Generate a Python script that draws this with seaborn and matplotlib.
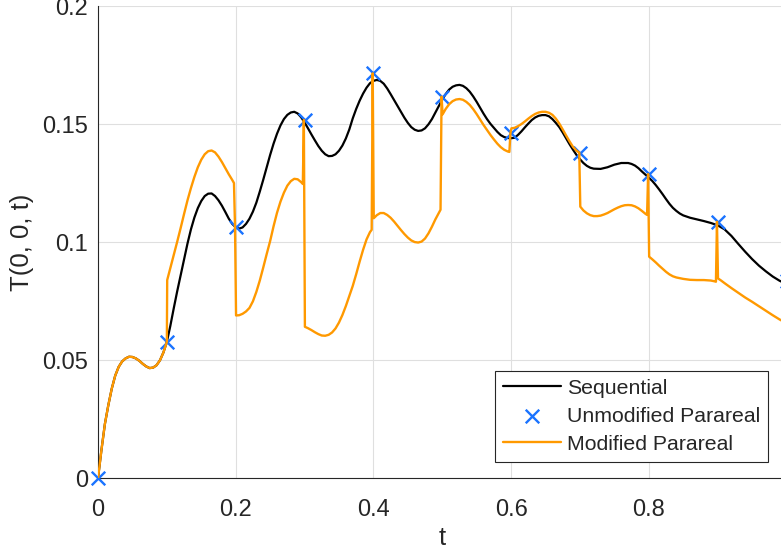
import matplotlib
matplotlib.use("Agg")
import matplotlib.pyplot as plt
import seaborn as sns
import pandas as pd

# ---------------- data ----------------
seq_t = [0.000, 0.005, 0.010, 0.015, 0.020, 0.025, 0.030, 0.035, 0.040, 0.045,
         0.050, 0.055, 0.060, 0.065, 0.070, 0.075, 0.080, 0.085, 0.090, 0.095,
         0.100, 0.105, 0.110, 0.115, 0.120, 0.125, 0.130, 0.135, 0.140, 0.145,
         0.150, 0.155, 0.160, 0.165, 0.170, 0.175, 0.180, 0.185, 0.190, 0.195,
         0.200, 0.205, 0.210, 0.215, 0.220, 0.225, 0.230, 0.235, 0.240, 0.245,
         0.250, 0.255, 0.260, 0.265, 0.270, 0.275, 0.280, 0.285, 0.290, 0.295,
         0.300, 0.305, 0.310, 0.315, 0.320, 0.325, 0.330, 0.335, 0.340, 0.345,
         0.350, 0.355, 0.360, 0.365, 0.370, 0.375, 0.380, 0.385, 0.390, 0.395,
         0.400, 0.405, 0.410, 0.415, 0.420, 0.425, 0.430, 0.435, 0.440, 0.445,
         0.450, 0.455, 0.460, 0.465, 0.470, 0.475, 0.480, 0.485, 0.490, 0.495,
         0.500, 0.505, 0.510, 0.515, 0.520, 0.525, 0.530, 0.535, 0.540, 0.545,
         0.550, 0.555, 0.560, 0.565, 0.570, 0.575, 0.580, 0.585, 0.590, 0.595,
         0.600, 0.605, 0.610, 0.615, 0.620, 0.625, 0.630, 0.635, 0.640, 0.645,
         0.650, 0.655, 0.660, 0.665, 0.670, 0.675, 0.680, 0.685, 0.690, 0.695,
         0.700, 0.705, 0.710, 0.715, 0.720, 0.730, 0.740, 0.750, 0.760, 0.770,
         0.775, 0.780, 0.785, 0.790, 0.795, 0.800, 0.805, 0.810, 0.815, 0.820,
         0.825, 0.830, 0.835, 0.840, 0.845, 0.850, 0.860, 0.870, 0.880, 0.890,
         0.900, 0.910, 0.920, 0.930, 0.940, 0.950, 0.960, 0.970, 0.980, 0.990,
         1.000]
seq_T = [0.0000, 0.0120, 0.0230, 0.0310, 0.0380, 0.0435, 0.0472, 0.0495, 0.0508, 0.0515,
         0.0514, 0.0508, 0.0498, 0.0485, 0.0474, 0.0467, 0.0469, 0.0479, 0.0500, 0.0533,
         0.0578, 0.0645, 0.0720, 0.0792, 0.0860, 0.0930, 0.0995, 0.1055, 0.1105, 0.1145,
         0.1175, 0.1196, 0.1206, 0.1207, 0.1196, 0.1178, 0.1155, 0.1128, 0.1100, 0.1078,
         0.1064, 0.1058, 0.1063, 0.1078, 0.1100, 0.1130, 0.1168, 0.1215, 0.1265, 0.1318,
         0.1370, 0.1418, 0.1460, 0.1495, 0.1522, 0.1540, 0.1550, 0.1553, 0.1546, 0.1530,
         0.1508, 0.1483, 0.1457, 0.1432, 0.1408, 0.1388, 0.1373, 0.1365, 0.1366, 0.1373,
         0.1388, 0.1410, 0.1440, 0.1478, 0.1525, 0.1565, 0.1600, 0.1630, 0.1655, 0.1674,
         0.1684, 0.1688, 0.1684, 0.1672, 0.1652, 0.1628, 0.1603, 0.1578, 0.1553, 0.1528,
         0.1506, 0.1488, 0.1477, 0.1472, 0.1474, 0.1483, 0.1500, 0.1522, 0.1550, 0.1578,
         0.1605, 0.1628, 0.1647, 0.1659, 0.1665, 0.1667, 0.1663, 0.1653, 0.1638, 0.1618,
         0.1595, 0.1570, 0.1545, 0.1522, 0.1502, 0.1485, 0.1468, 0.1454, 0.1446, 0.1442,
         0.1441, 0.1443, 0.1455, 0.1470, 0.1487, 0.1503, 0.1518, 0.1529, 0.1536, 0.1539,
         0.1539, 0.1534, 0.1522, 0.1506, 0.1488, 0.1465, 0.1440, 0.1415, 0.1392, 0.1370,
         0.1352, 0.1336, 0.1324, 0.1316, 0.1312, 0.1311, 0.1318, 0.1329, 0.1336, 0.1336,
         0.1332, 0.1325, 0.1314, 0.1300, 0.1287, 0.1274, 0.1260, 0.1243, 0.1224, 0.1204,
         0.1183, 0.1163, 0.1146, 0.1133, 0.1122, 0.1114, 0.1104, 0.1097, 0.1090, 0.1082,
         0.1072, 0.1055, 0.1027, 0.0993, 0.0960, 0.0929, 0.0901, 0.0877, 0.0855, 0.0837,
         0.0823]

par_t = [0.0, 0.1, 0.2, 0.3, 0.4, 0.5, 0.6, 0.7, 0.8, 0.9, 1.0]
par_T = [0.0, 0.0578, 0.1066, 0.1518, 0.1716, 0.1617, 0.1462, 0.1380, 0.1289, 0.1087, 0.0838]

mod_t = [0.000, 0.005, 0.010, 0.015, 0.020, 0.025, 0.030, 0.035, 0.040, 0.045,
         0.050, 0.055, 0.060, 0.065, 0.070, 0.075, 0.080, 0.085, 0.090, 0.095,
         0.100,
         0.1005, 0.105, 0.110, 0.115, 0.120, 0.125, 0.130, 0.135, 0.140, 0.145,
         0.150, 0.155, 0.160, 0.165, 0.170, 0.175, 0.180, 0.185, 0.190, 0.195, 0.1975,
         0.199,
         0.2005, 0.205, 0.210, 0.215, 0.220, 0.225, 0.230, 0.235, 0.240, 0.245,
         0.250, 0.255, 0.260, 0.265, 0.270, 0.275, 0.280, 0.285, 0.290, 0.295, 0.2975,
         0.299,
         0.3005, 0.305, 0.310, 0.315, 0.320, 0.325, 0.330, 0.335, 0.340, 0.345,
         0.350, 0.355, 0.360, 0.365, 0.370, 0.375, 0.380, 0.385, 0.390, 0.395, 0.3975,
         0.399,
         0.4005, 0.405, 0.410, 0.415, 0.420, 0.425, 0.430, 0.435, 0.440, 0.445,
         0.450, 0.455, 0.460, 0.465, 0.470, 0.475, 0.480, 0.485, 0.490, 0.495, 0.4975,
         0.499,
         0.5005, 0.505, 0.510, 0.515, 0.520, 0.525, 0.530, 0.535, 0.540, 0.545,
         0.550, 0.555, 0.560, 0.565, 0.570, 0.575, 0.580, 0.585, 0.590, 0.595, 0.5975,
         0.599,
         0.6005, 0.605, 0.610, 0.615, 0.620, 0.625, 0.630, 0.635, 0.640, 0.645,
         0.650, 0.655, 0.660, 0.665, 0.670, 0.675, 0.680, 0.685, 0.690, 0.695, 0.6975,
         0.699,
         0.7005, 0.705, 0.710, 0.715, 0.720, 0.725, 0.730, 0.735, 0.740, 0.745,
         0.750, 0.755, 0.760, 0.765, 0.770, 0.775, 0.780, 0.785, 0.790, 0.795, 0.7975,
         0.799,
         0.8005, 0.805, 0.810, 0.815, 0.820, 0.825, 0.830, 0.835, 0.840, 0.850,
         0.860, 0.870, 0.880, 0.890, 0.895, 0.8975,
         0.899,
         0.9005, 0.905, 0.910, 0.920, 0.930, 0.940, 0.950, 0.960, 0.970, 0.980,
         0.990, 1.000]
mod_T = [0.0000, 0.0120, 0.0230, 0.0310, 0.0380, 0.0435, 0.0472, 0.0495, 0.0508, 0.0515,
         0.0514, 0.0508, 0.0498, 0.0485, 0.0474, 0.0467, 0.0469, 0.0479, 0.0500, 0.0533,
         0.0578,
         0.0840, 0.0890, 0.0945, 0.1002, 0.1060, 0.1120, 0.1178, 0.1230, 0.1277, 0.1318,
         0.1350, 0.1373, 0.1386, 0.1389, 0.1381, 0.1363, 0.1340, 0.1314, 0.1288, 0.1264, 0.1251,
         0.1066,
         0.0690, 0.0691, 0.0697, 0.0707, 0.0722, 0.0750, 0.0790, 0.0838, 0.0893, 0.0950,
         0.1005, 0.1068, 0.1125, 0.1172, 0.1210, 0.1240, 0.1259, 0.1269, 0.1267, 0.1255, 0.1247,
         0.1518,
         0.0642, 0.0636, 0.0628, 0.0619, 0.0611, 0.0605, 0.0604, 0.0608, 0.0618, 0.0635,
         0.0660, 0.0692, 0.0730, 0.0772, 0.0815, 0.0865, 0.0918, 0.0968, 0.1012, 0.1043, 0.1053,
         0.1716,
         0.1102, 0.1115, 0.1124, 0.1124, 0.1116, 0.1104, 0.1088, 0.1070, 0.1052, 0.1035,
         0.1020, 0.1008, 0.1001, 0.0999, 0.1003, 0.1016, 0.1038, 0.1066, 0.1097, 0.1125, 0.1138,
         0.1617,
         0.1542, 0.1565, 0.1585, 0.1598, 0.1605, 0.1607, 0.1604, 0.1595, 0.1582, 0.1564,
         0.1543, 0.1520, 0.1497, 0.1476, 0.1455, 0.1436, 0.1418, 0.1403, 0.1392, 0.1385, 0.1383,
         0.1462,
         0.1483, 0.1485, 0.1492, 0.1501, 0.1512, 0.1524, 0.1535, 0.1544, 0.1550, 0.1553,
         0.1553, 0.1549, 0.1540, 0.1524, 0.1503, 0.1478, 0.1452, 0.1427, 0.1404, 0.1388, 0.1383,
         0.1380,
         0.1151, 0.1135, 0.1123, 0.1115, 0.1111, 0.1111, 0.1113, 0.1118, 0.1124, 0.1132,
         0.1140, 0.1147, 0.1153, 0.1157, 0.1158, 0.1157, 0.1152, 0.1144, 0.1133, 0.1121, 0.1116,
         0.1289,
         0.0939, 0.0928, 0.0915, 0.0901, 0.0888, 0.0875, 0.0864, 0.0856, 0.0851, 0.0845,
         0.0841, 0.0840, 0.0840, 0.0838, 0.0835, 0.0833,
         0.1087,
         0.0847, 0.0838, 0.0827, 0.0806, 0.0786, 0.0766, 0.0748, 0.0729, 0.0710, 0.0691,
         0.0673, 0.0657]

x_ticks = [0, 0.2, 0.4, 0.6, 0.8, 1.0]
x_tick_labels = ["0", "0.2", "0.4", "0.6", "0.8", "1"]
y_ticks = [0, 0.05, 0.1, 0.15, 0.2]
y_tick_labels = ["0", "0.05", "0.1", "0.15", "0.2"]

# ---------------- style ----------------
sns.set_style("white")
plt.rcParams["font.family"] = ["Liberation Sans", "DejaVu Sans"]
plt.rcParams["text.color"] = "#262626"
plt.rcParams["axes.labelcolor"] = "#262626"

fig = plt.figure(figsize=(7.81, 5.54), dpi=100)
ax = fig.add_axes([98 / 781, 1 - 478.3 / 554, 688.5 / 781, 472 / 554])

seq_df = pd.DataFrame({"t": seq_t, "T": seq_T})
par_df = pd.DataFrame({"t": par_t, "T": par_T})
mod_df = pd.DataFrame({"t": mod_t, "T": mod_T})

sns.lineplot(data=seq_df, x="t", y="T", ax=ax, color="black", linewidth=1.6,
             estimator=None, sort=False, label="Sequential", zorder=3)
sns.scatterplot(data=par_df, x="t", y="T", ax=ax, marker="x", color="#1A73FF",
                s=95, linewidth=1.7, label="Unmodified Parareal", zorder=4,
                clip_on=False)
sns.lineplot(data=mod_df, x="t", y="T", ax=ax, color="#FF9900", linewidth=1.7,
             estimator=None, sort=False, label="Modified Parareal", zorder=5)

ax.set_xlim(0, 1)
ax.set_ylim(0, 0.2)
ax.set_xticks(x_ticks)
ax.set_xticklabels(x_tick_labels)
ax.set_yticks(y_ticks)
ax.set_yticklabels(y_tick_labels)

ax.grid(True, color="#DFDFDF", linewidth=0.8)
ax.set_axisbelow(True)
for side in ["top", "right"]:
    ax.spines[side].set_visible(False)
for side in ["left", "bottom"]:
    ax.spines[side].set_color("#262626")
    ax.spines[side].set_linewidth(0.8)

ax.tick_params(axis="both", direction="in", length=5, width=0.8,
               colors="#262626", labelsize=17)
ax.tick_params(axis="x", pad=15)
ax.tick_params(axis="y", pad=7)

ax.set_xlabel("t", fontsize=18.5, va="center")
ax.set_ylabel("T(0, 0, t)", fontsize=18.5, va="center")
ax.xaxis.set_label_coords(0.5, (478.3 - 538) / 472)
ax.yaxis.set_label_coords((22 - 98) / 688.5, 0.5)

leg = ax.legend(loc="lower right", bbox_to_anchor=(768 / 781, 1 - 462 / 554),
                bbox_transform=fig.transFigure, borderaxespad=0,
                fontsize=15.3, frameon=True, fancybox=False, framealpha=1,
                edgecolor="#262626", handlelength=2.75, handletextpad=0.25,
                labelspacing=0.43, borderpad=0.38, scatterpoints=1)
leg.get_frame().set_linewidth(0.8)

fig.savefig("out.png", dpi=100)
